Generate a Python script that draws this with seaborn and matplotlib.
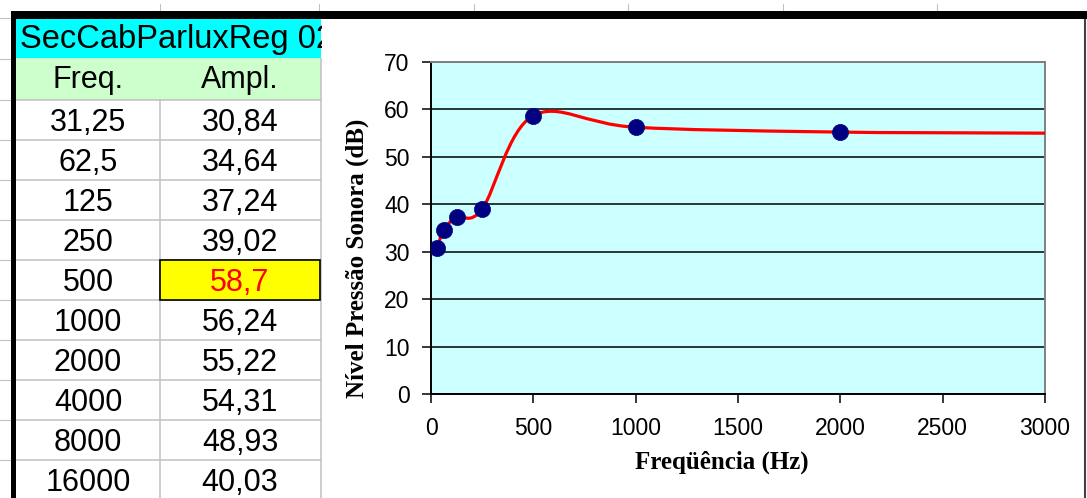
import numpy as np
import pandas as pd
import matplotlib
matplotlib.use("Agg")
import matplotlib.pyplot as plt
import seaborn as sns
from matplotlib.path import Path
from matplotlib.patches import PathPatch, Rectangle

# data (as in the spreadsheet)
freq = [31.25, 62.5, 125, 250, 500, 1000, 2000, 4000, 8000, 16000]
ampl = [30.84, 34.64, 37.24, 39.02, 58.7, 56.24, 55.22, 54.31, 48.93, 40.03]
table_title = "SecCabParluxReg 02"
col_names = ["Freq.", "Ampl."]
highlight = 4  # row of the yellow cell
x_ticks = [0, 500, 1000, 1500, 2000, 2500, 3000]
y_ticks = [0, 10, 20, 30, 40, 50, 60, 70]
x_label = "Freqüência (Hz)"
y_label = "Nível Pressão Sonora (dB)"

sns.set_style("white")
plt.rcParams["font.family"] = ["Liberation Sans", "DejaVu Sans"]
plt.rcParams["text.color"] = "black"

W, H = 1087, 498
fig = plt.figure(figsize=(W / 100, H / 100), dpi=100)

# ---- spreadsheet part, drawn in pixel coordinates ----
bg = fig.add_axes([0, 0, 1, 1])
bg.set_xlim(0, W)
bg.set_ylim(H, 0)
bg.axis("off")

grid_gray = "#C0C0C0"
# little stubs of the sheet grid outside the border
for y in [18, 59] + [100 + 40 * i for i in range(10)]:
    bg.plot([0, 11], [y, y], color=grid_gray, lw=0.8)
for x in [160, 319, 474, 628, 783, 937]:
    bg.plot([x, x], [4, 11], color=grid_gray, lw=0.8)

bg.add_patch(Rectangle((16, 19), 305, 39, fc="#00FFFF", ec="none"))
bg.add_patch(Rectangle((16, 58), 305, 42, fc="#CCFFCC", ec="none"))
bg.add_patch(Rectangle((16, 100), 305, 400, fc="white", ec="none"))

for i in range(11):
    y = 100 + 40 * i
    bg.plot([16, 321], [y, y], color=grid_gray, lw=1.1)
bg.plot([160, 160], [100, H], color=grid_gray, lw=1.1)
bg.plot([321, 321], [58, H], color=grid_gray, lw=1.1)

bg.add_patch(Rectangle((160, 260), 160, 40, fc="#FFFF00", ec="black", lw=1.2, zorder=3))

fmt = lambda v: "{:g}".format(v).replace(".", ",")
bg.text(20, 48, table_title, fontsize=23.5, ha="left", va="baseline", zorder=3)
bg.text(88, 88, col_names[0], fontsize=22, ha="center", va="baseline")
bg.text(240, 88, col_names[1], fontsize=22, ha="center", va="baseline")
for i, (f, a) in enumerate(zip(freq, ampl)):
    base = 100 + 40 * i + 31
    bg.text(88, base, fmt(f), fontsize=22, ha="center", va="baseline")
    bg.text(240, base, fmt(a), fontsize=22, ha="center", va="baseline",
            color="red" if i == highlight else "black", zorder=4)

# chart area frame and thick sheet borders
bg.add_patch(Rectangle((322, 19), 763, 480, fc="white", ec="none", zorder=5))
bg.plot([1085, 1085], [19, H], color="#404040", lw=1.5, zorder=6)
bg.add_patch(Rectangle((11, 11), W - 11, 8, fc="black", ec="none", zorder=6))
bg.add_patch(Rectangle((11, 11), 5, H - 11, fc="black", ec="none", zorder=6))

# ---- chart ----
ax = fig.add_axes([431 / W, 1 - 394 / H, 614 / W, 332 / H])
ax.set_zorder(10)
ax.set_facecolor("#CCFFFF")
pts = pd.DataFrame({"Freq": freq, "Ampl": ampl})

# smoothed line like Excel: cubic Bezier segments (Catmull-Rom tangents in screen scale)
sx, sy = 614 / 3000, 332 / 70
P = np.column_stack([pts["Freq"] * sx, pts["Ampl"] * sy])
n = len(P)
verts = [tuple(P[0])]
codes = [Path.MOVETO]
for i in range(n - 1):
    p0 = P[max(i - 1, 0)]
    p3 = P[min(i + 2, n - 1)]
    c1 = P[i] + (P[i + 1] - p0) / 6
    c2 = P[i + 1] - (p3 - P[i]) / 6
    verts += [tuple(c1), tuple(c2), tuple(P[i + 1])]
    codes += [Path.CURVE4] * 3
verts = [(x / sx, y / sy) for x, y in verts]
ax.add_patch(PathPatch(Path(verts, codes), fc="none", ec="#FF0000", lw=2.3, zorder=3))

sns.scatterplot(data=pts, x="Freq", y="Ampl", ax=ax, color="#000080", s=135,
                marker="o", edgecolor="#000080", linewidth=0.5, zorder=4)

ax.set_xlim(0, 3000)
ax.set_ylim(0, 70)
ax.set_xticks(x_ticks)
ax.set_yticks(y_ticks)
ax.yaxis.grid(True, color="black", lw=1.1)
ax.xaxis.grid(False)
ax.set_axisbelow(True)
for s in ["left", "bottom"]:
    ax.spines[s].set_color("black")
    ax.spines[s].set_linewidth(1.4)
for s in ["top", "right"]:
    ax.spines[s].set_color("#808080")
    ax.spines[s].set_linewidth(1.4)
ax.tick_params(bottom=True, left=True, direction="out", length=6.5, width=1.1,
               color="black", labelcolor="black", labelsize=16.5)
ax.tick_params(axis="x", pad=10)
ax.tick_params(axis="y", pad=9)

ax.set_xlabel(x_label, fontsize=18, fontweight="bold", family="Liberation Serif", color="black")
ax.xaxis.label.set_va("center")
ax.xaxis.set_label_coords((722 - 431) / 614, (394 - 462) / 332)
ax.set_ylabel(y_label, fontsize=18, fontweight="bold", family="Liberation Serif", color="black")
ax.yaxis.label.set_va("center")
ax.yaxis.set_label_coords((357 - 431) / 614, (394 - 258) / 332)

fig.savefig("out.png", dpi=100)
